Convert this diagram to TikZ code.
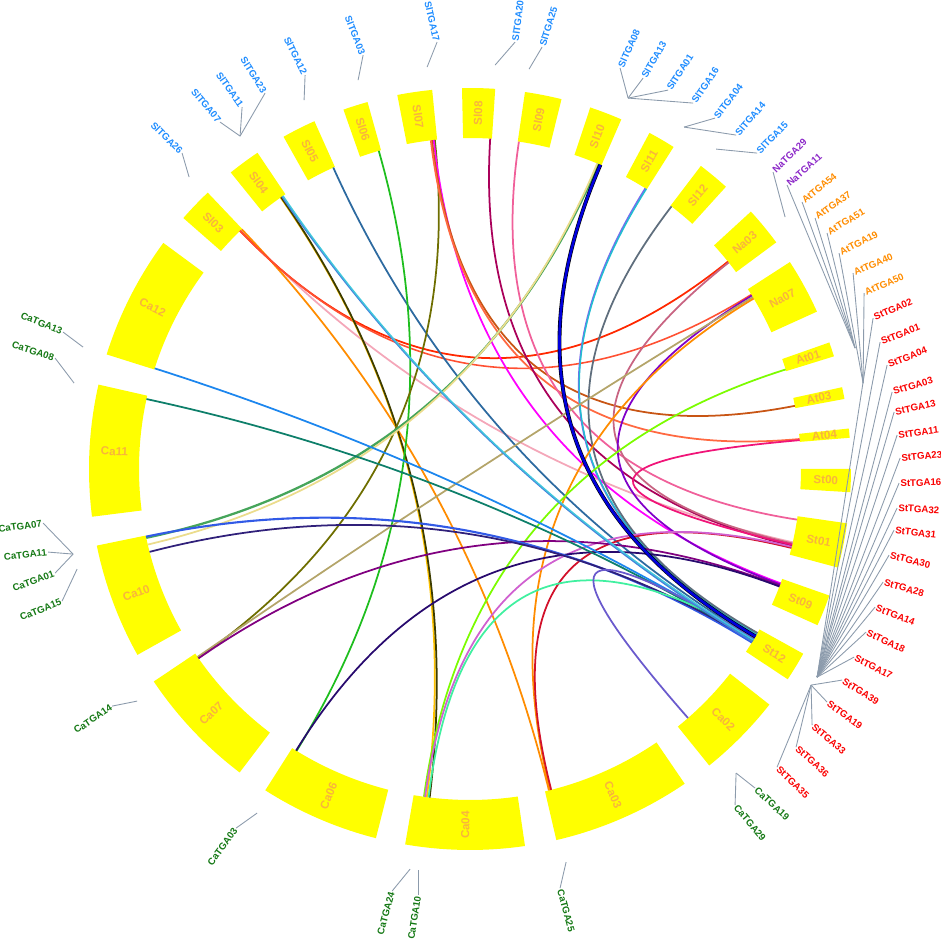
\documentclass[tikz,border=0pt]{standalone}
\usepackage{fontspec}
\setmainfont{Liberation Sans}
\usetikzlibrary{calc}

\definecolor{segfill}{RGB}{255,255,0}
\definecolor{segtext}{RGB}{248,180,60}
\definecolor{leadgray}{RGB}{140,155,172}
\definecolor{slblue}{RGB}{30,140,255}
\definecolor{napurple}{RGB}{140,40,200}
\definecolor{atorange}{RGB}{255,140,0}
\definecolor{stred}{RGB}{250,0,0}
\definecolor{cagreen}{RGB}{20,120,20}
% link colours
\definecolor{lpink}{RGB}{244,167,185}
\definecolor{lorange}{RGB}{255,140,0}
\definecolor{lred}{RGB}{255,40,0}
\definecolor{ltomato}{RGB}{255,80,50}
\definecolor{lcorn}{RGB}{70,130,220}
\definecolor{lcyan}{RGB}{64,200,220}
\definecolor{lgold}{RGB}{255,195,0}
\definecolor{ldolive}{RGB}{60,60,0}
\definecolor{lsteel}{RGB}{45,106,160}
\definecolor{lgreen}{RGB}{30,190,30}
\definecolor{lolive}{RGB}{110,110,0}
\definecolor{lmagenta}{RGB}{255,0,255}
\definecolor{lsienna}{RGB}{200,85,20}
\definecolor{lcoral}{RGB}{255,105,65}
\definecolor{lcrimson}{RGB}{170,0,90}
\definecolor{lhotpink}{RGB}{240,96,154}
\definecolor{lblue}{RGB}{0,0,220}
\definecolor{lsea}{RGB}{70,165,90}
\definecolor{lkhakipale}{RGB}{235,220,140}
\definecolor{lmpurple}{RGB}{123,104,238}
\definecolor{lturq}{RGB}{32,192,208}
\definecolor{lslate}{RGB}{95,110,125}
\definecolor{lmauve}{RGB}{200,100,130}
\definecolor{lviolet}{RGB}{128,0,200}
\definecolor{lkhaki}{RGB}{180,165,106}
\definecolor{llawn}{RGB}{124,252,0}
\definecolor{ldeeppink}{RGB}{240,20,120}
\definecolor{lred2}{RGB}{210,16,42}
\definecolor{lorchid}{RGB}{208,96,208}
\definecolor{lpurple}{RGB}{128,0,128}
\definecolor{lnavy}{RGB}{40,10,110}
\definecolor{lroyal}{RGB}{50,90,230}
\definecolor{lindigo}{RGB}{48,32,122}
\definecolor{lteal}{RGB}{14,127,106}
\definecolor{ldodger}{RGB}{28,134,238}
\definecolor{laqua}{RGB}{64,240,160}
\definecolor{lslateblue}{RGB}{106,90,205}

\begin{document}
\begin{tikzpicture}[x=0.02cm,y=0.02cm,
    seglab/.style={text=segtext,font=\bfseries\fontsize{6.6}{7}\selectfont,inner sep=0pt},
    gene/.style={font=\bfseries\fontsize{5.5}{6}\selectfont,inner sep=0.6pt},
    lead/.style={leadgray,line width=0.5pt},
    link/.style={line width=1pt}]
    \useasboundingbox (-470,-470) rectangle (471,469);

    % chromosome ring
    \foreach \nm/\a/\b in {Sl08/86.2/91.2, Sl07/95.7/101, Sl06/105.6/109.4,
        Sl05/114.1/119.3, Sl04/123.9/128.9, Sl03/133.5/138.8, Ca12/143.6/162.5,
        Ca11/167.2/187.2, Ca10/191.6/209.2, Ca07/213.9/232.8, Ca06/237.5/255.7,
        Ca04/260.2/278.3, Ca03/283.1/304.3, Ca02/308.9/321.8, St12/326.5/331,
        St09/335.8/340.6, St01/345/351.8, St00/356.5/360, At04/4.7/6.1,
        At03/10.6/12.4, At01/17.2/19.4, Na07/24.4/32.9, Na03/36.5/42.5,
        Sl12/47.8/52.7, Sl11/57.7/61.9, Sl10/66.6/71.6, Sl09/76.1/81.7} {
        \fill[segfill] (\a:331) arc[start angle=\a,end angle=\b,radius=331]
            -- (\b:381) arc[start angle=\b,end angle=\a,radius=381] -- cycle;
        \pgfmathsetmacro\m{(\a+\b)/2}
        \pgfmathsetmacro\rot{ifthenelse(and(\m>90,\m<270),\m-180,\m)}
        \node[seglab,rotate=\rot] at (\m:356) {\nm};
    }

    % links, control point at the centre
    \foreach \a/\b/\c/\w in {133.8/347.2/lpink/1, 133.6/283.8/lorange/1,
        134.0/38.8/lred/1, 134.0/31.8/ltomato/0.9,
        124.9/262.5/lgold/1, 124.8/263.0/ldolive/1,
        114.4/329.2/lsteel/1, 106.0/238.4/lgreen/1,
        96.1/214.8/lolive/1, 96.3/339.8/lmagenta/1, 96.6/11.0/lsienna/1,
        96.8/5.2/lcoral/1, 86.5/346.6/lcrimson/1, 81.5/351.2/lhotpink/1,
        67.2/192.0/lsea/1.3, 67.4/193.2/lkhakipale/1,
        58.0/329.9/lmpurple/1, 57.8/330.1/lturq/0.8, 52.5/330.3/lslate/1,
        38.6/347.0/lmauve/1, 31.6/339.6/lviolet/1, 31.3/214.6/lkhaki/1,
        31.0/284.0/lorange/1, 17.5/262.0/llawn/1, 5.0/346.8/ldeeppink/1,
        346.2/284.2/lred2/1, 346.4/262.2/lorchid/1, 339.4/214.9/lpurple/1,
        339.2/238.3/lnavy/1, 191.8/328.4/lroyal/1.2, 194.5/328.7/lindigo/1,
        167.8/328.8/lteal/1, 162.3/329.0/ldodger/1, 329.4/262.8/laqua/1,
        329.2/311.2/lslateblue/1, 124.6/328.6/lcorn/1, 124.4/328.9/lcyan/0.8} {
        \draw[link,color=\c,line width=\w pt] (\a:331) .. controls (\a:110.3) and (\b:110.3) .. (\b:331);
    }
    \draw[line width=2.2pt,black] (66.8:331) .. controls (66.8:110.3) and (329.6:110.3) .. (329.6:331);
    \draw[line width=1.5pt,lblue] (66.8:331) .. controls (66.8:110.3) and (329.6:110.3) .. (329.6:331);

    % gene labels, placed in picture pixels
    \begin{scope}[y=-0.02cm,xshift=-9.4cm,yshift=9.38cm]
        \coordinate (h26) at (189,177);
        \coordinate (hSlA) at (240,136);
        \coordinate (h12) at (304,100);
        \coordinate (h03) at (358,80);
        \coordinate (h17) at (427,67);
        \coordinate (h20) at (495,65);
        \coordinate (h25) at (529,69);
        \coordinate (hSlB) at (628,98);
        \coordinate (hSlC) at (684,127);
        \coordinate (h15) at (716,149);
        \coordinate (hNa) at (785,217);
        \coordinate (hAtA) at (855,348);
        \coordinate (hAtB) at (863,383);
        \coordinate (hStA) at (817,677);
        \coordinate (hStB) at (811,685);
        \coordinate (hC13) at (83,347);
        \coordinate (hC08) at (74,383);
        \coordinate (hCaA) at (73,554);
        \coordinate (hC15) at (77,569);
        \coordinate (hC14) at (137,701);
        \coordinate (hC03) at (257,813);
        \coordinate (hC24) at (410,869);
        \coordinate (hC10) at (418,870);
        \coordinate (hC25) at (566,862);
        \coordinate (hCaB) at (736,773);

        % left half, text ends at the leader
        \foreach \nm/\x/\y/\r/\h/\c in {SlTGA26/182/153/-45/h26/slblue,
            SlTGA07/220/122/-50/hSlA/slblue, SlTGA11/242/107/-55/hSlA/slblue,
            SlTGA23/265/93/-58/hSlA/slblue, SlTGA12/305/75/-64/h12/slblue,
            SlTGA03/363/55/-68.5/h03/slblue, SlTGA17/437/42/-77/h17/slblue,
            CaTGA13/63/332/-22/hC13/cagreen, CaTGA08/55/358/-18/hC08/cagreen,
            CaTGA07/43/523/8/hCaA/cagreen, CaTGA11/48/552/7/hCaA/cagreen,
            CaTGA01/55/573/20/hCaA/cagreen, CaTGA15/62/601/22/hC15/cagreen,
            CaTGA14/112/706/34/hC14/cagreen, CaTGA03/236/828/54/hC03/cagreen,
            CaTGA24/392/891/74.6/hC24/cagreen, CaTGA10/418/895/81/hC10/cagreen} {
            \node[gene,text=\c,anchor=east,rotate=\r] (\nm) at (\x,\y) {\nm};
            \draw[lead] (\nm.east) -- (\h);
        }

        % right half, text starts at the leader
        \foreach \nm/\x/\y/\r/\h/\c in {SlTGA20/515/42/82.6/h20/slblue,
            SlTGA25/542/47/73/h25/slblue, SlTGA08/620/68/65.6/hSlB/slblue,
            SlTGA13/643/78/60/hSlB/slblue, SlTGA01/668/90/57/hSlB/slblue,
            SlTGA16/693/103/56/hSlB/slblue, SlTGA04/715/118/52/hSlC/slblue,
            SlTGA14/736/135/49/hSlC/slblue, SlTGA15/757/153/45.6/h15/slblue,
            NaTGA29/773/172/44.4/hNa/napurple, NaTGA11/787/185/41.4/hAtA/napurple,
            AtTGA54/802/202/39/hAtA/atorange, AtTGA37/815/218/35.5/hAtA/atorange,
            AtTGA51/827/233/31/hAtA/atorange, AtTGA19/839/253/27/hAtB/atorange,
            AtTGA40/853/273/23.5/hAtB/atorange, AtTGA50/864/293/23.8/hAtB/atorange,
            StTGA02/873/318/23.7/hStA/stred, StTGA01/880/342/21/hStA/stred,
            StTGA04/887/365/21/hStA/stred, StTGA03/892/392/17/hStA/stred,
            StTGA13/894/412/12/hStA/stred, StTGA11/897/435/7/hStA/stred,
            StTGA23/900/458/5/hStA/stred, StTGA16/899/483/1/hStA/stred,
            StTGA32/897/508/-3/hStA/stred, StTGA31/894/530/-7/hStA/stred,
            StTGA30/889/555/-14/hStA/stred, StTGA28/883/582/-16/hStA/stred,
            StTGA14/875/607/-22/hStA/stred, StTGA18/866/632/-25/hStA/stred,
            StTGA17/854/657/-27/hStA/stred, StTGA39/842/680/-32/hStB/stred,
            StTGA19/827/702/-36/hStB/stred, StTGA33/812/725/-40/hStB/stred,
            StTGA36/796/747/-42/hStB/stred, StTGA35/777/767/-44/hStB/stred,
            CaTGA25/560/888/-75/hC25/cagreen, CaTGA19/755/788/-43/hCaB/cagreen,
            CaTGA29/735/805/-50/hCaB/cagreen} {
            \node[gene,text=\c,anchor=west,rotate=\r] (\nm) at (\x,\y) {\nm};
            \draw[lead] (\nm.west) -- (\h);
        }
    \end{scope}
\end{tikzpicture}
\end{document}
